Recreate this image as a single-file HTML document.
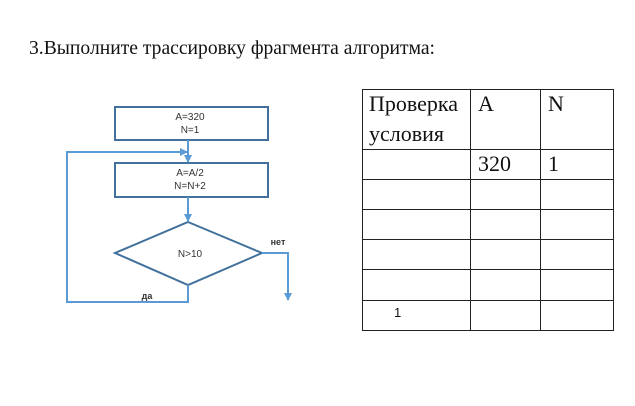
<!DOCTYPE html>
<html><head><meta charset="utf-8"><style>
body{margin:0;width:635px;height:406px;background:#fff;position:relative;overflow:hidden}
.t{position:absolute;font-family:"Liberation Serif",serif;color:#111}
.s{font-family:"Liberation Sans",sans-serif}
</style></head><body>
<div class="t" style="left:29px;top:38px;font-size:19.6px">3.Выполните трассировку фрагмента алгоритма:</div>
<svg width="635" height="406" style="position:absolute;left:0;top:0">
<defs><marker id="a" markerWidth="8" markerHeight="8" refX="7" refY="4" orient="auto" markerUnits="userSpaceOnUse"><path d="M0,0 L8,4 L0,8z" fill="#5b9bd5"/></marker></defs>
<g stroke="#41719c" stroke-width="2" fill="#fff">
<rect x="115" y="107" width="153" height="33"/>
<rect x="115" y="163" width="153" height="34"/>
<polygon points="188,222 262,253 188,285 115,253"/>
</g>
<g stroke="#5b9bd5" stroke-width="2" fill="none">
<line x1="188" y1="140" x2="188" y2="162" marker-end="url(#a)"/>
<line x1="188" y1="197" x2="188" y2="221" marker-end="url(#a)"/>
<polyline points="188,285 188,302 67,302 67,152 187,152" marker-end="url(#a)"/>
<polyline points="262,253 288,253 288,300" marker-end="url(#a)"/>
</g>
<g font-family="Liberation Sans,sans-serif" font-size="10" fill="#333" text-anchor="middle">
<text x="190" y="120">A=320</text><text x="190" y="133">N=1</text>
<text x="190" y="176">A=A/2</text><text x="190" y="189">N=N+2</text>
<text x="190" y="257">N&gt;10</text>
<text x="278" y="245" font-weight="bold" font-size="9">нет</text>
<text x="147" y="299" font-weight="bold" font-size="9">да</text>
</g>
<g stroke="#222" stroke-width="1" fill="none">
<rect x="362.5" y="89.5" width="251" height="241"/>
<line x1="470.5" y1="89" x2="470.5" y2="331"/>
<line x1="540.5" y1="89" x2="540.5" y2="331"/>
<line x1="362" y1="149.5" x2="614" y2="149.5"/>
<line x1="362" y1="179.5" x2="614" y2="179.5"/>
<line x1="362" y1="209.5" x2="614" y2="209.5"/>
<line x1="362" y1="239.5" x2="614" y2="239.5"/>
<line x1="362" y1="269.5" x2="614" y2="269.5"/>
<line x1="362" y1="300.5" x2="614" y2="300.5"/>
</g>
</svg>
<div class="t" style="left:369px;top:89px;font-size:22px;line-height:30px">Проверка<br>условия</div>
<div class="t" style="left:478px;top:89px;font-size:22px;line-height:30px">A</div>
<div class="t" style="left:548px;top:89px;font-size:22px;line-height:30px">N</div>
<div class="t" style="left:478px;top:149px;font-size:22px;line-height:30px">320</div>
<div class="t" style="left:548px;top:149px;font-size:22px;line-height:30px">1</div>
<div class="t s" style="left:394px;top:305px;font-size:13px">1</div>
</body></html>
